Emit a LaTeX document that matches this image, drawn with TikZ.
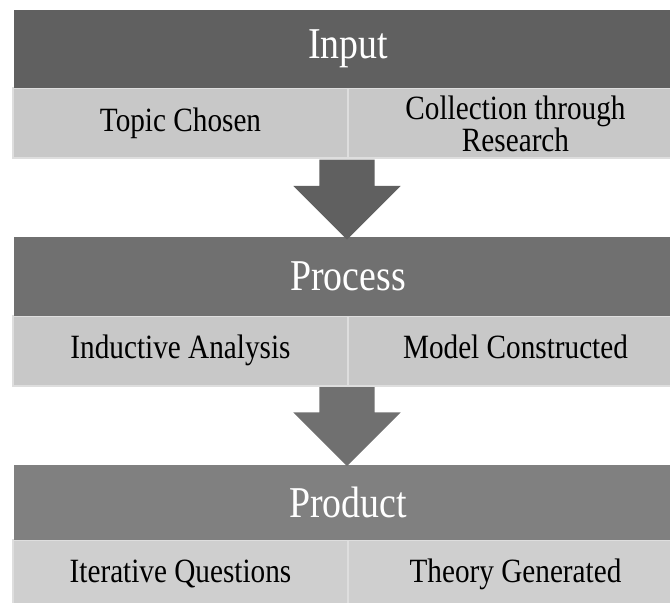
\documentclass[tikz,border=0pt]{standalone}
\usepackage{fontspec}
\setmainfont[FakeStretch=0.86]{Liberation Serif}
\usetikzlibrary{shapes.arrows}

\definecolor{inputgray}{RGB}{96,96,96}
\definecolor{processgray}{RGB}{112,112,112}
\definecolor{productgray}{RGB}{128,128,128}
\definecolor{partgray}{RGB}{200,200,200}
\definecolor{partgraylight}{RGB}{207,207,207}
\definecolor{partline}{RGB}{222,222,222}

\tikzset{
  headbox/.style={rectangle, minimum width=668pt, inner sep=0pt, text=white,
    font=\fontsize{44}{46}\selectfont},
  partbox/.style={rectangle, draw=partline, line width=2pt, minimum width=335pt,
    minimum height=70pt, inner sep=0pt, align=center, text height=23pt, text depth=7pt,
    font=\fontsize{34}{30}\selectfont},
  downarrow/.style={single arrow, single arrow head extend=26pt, inner xsep=0pt,
    inner ysep=27.5pt, rotate=-90, anchor=tail}
}

\begin{document}
\begin{tikzpicture}[x=1pt,y=1pt]
    \useasboundingbox (0,0) rectangle (670,603);

    % Input
    \node[partbox, fill=partgray] (inL) at (180.5,479.5) {Topic Chosen};
    \node[partbox, fill=partgray, text height=, text depth=] (inR) at (515.5,479.5) {Collection through\\Research};
    \node[headbox, fill=inputgray, minimum height=78pt] (inH) at (348,554) {Input};

    % Process
    \node[partbox, fill=partgray] (procL) at (180.5,252) {Inductive Analysis};
    \node[partbox, fill=partgray] (procR) at (515.5,252) {Model Constructed};
    \node[headbox, fill=processgray, minimum height=79pt] (procH) at (348,326.5) {Process};

    % Product
    \node[partbox, fill=partgraylight] (prodL) at (180.5,28) {Iterative Questions};
    \node[partbox, fill=partgraylight] (prodR) at (515.5,28) {Theory Generated};
    \node[headbox, fill=productgray, minimum height=75pt] (prodH) at (348,100.5) {Product};

    % Arrows between the stages
    \node[downarrow, fill=inputgray, minimum height=80pt] (arr1) at (inR.south west) {};
    \node[downarrow, fill=processgray, minimum height=79pt] (arr2) at (procR.south west) {};

\end{tikzpicture}
\end{document}
